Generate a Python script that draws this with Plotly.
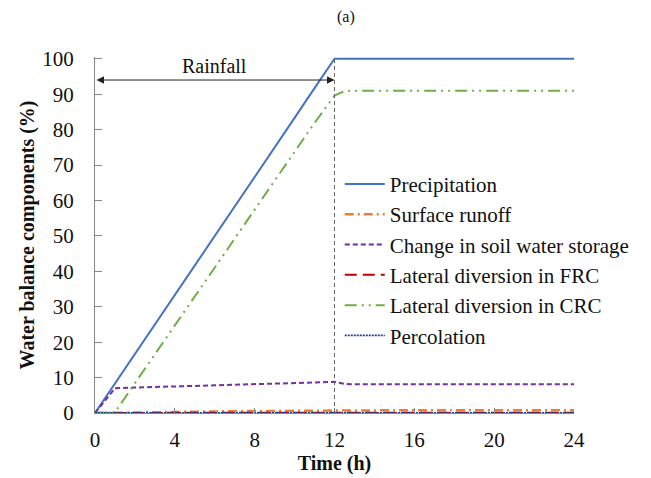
import plotly.graph_objects as go

# Time axis (hours)
time_h = [0, 1, 2, 3, 4, 5, 6, 7, 8, 9, 10, 11, 12, 12.5, 13, 14, 15, 16, 17, 18, 19, 20, 21, 22, 23, 24]

# Cumulative water balance components (% of total precipitation)
precipitation = [0, 8.3, 16.7, 25.0, 33.3, 41.7, 50.0, 58.3, 66.7, 75.0, 83.3, 91.7, 100,
                 100, 100, 100, 100, 100, 100, 100, 100, 100, 100, 100, 100, 100]
surface_runoff = [0, 0.1, 0.2, 0.25, 0.3, 0.4, 0.45, 0.5, 0.55, 0.6, 0.65, 0.7, 0.8,
                  0.8, 0.8, 0.8, 0.8, 0.8, 0.8, 0.8, 0.8, 0.8, 0.8, 0.8, 0.8, 0.8]
soil_storage = [0, 7.0, 7.2, 7.3, 7.5, 7.6, 7.8, 8.0, 8.1, 8.3, 8.5, 8.6, 8.8,
                8.2, 8.1, 8.1, 8.1, 8.1, 8.1, 8.1, 8.1, 8.1, 8.1, 8.1, 8.1, 8.1]
lateral_frc = [0, 0.05, 0.05, 0.05, 0.05, 0.05, 0.05, 0.05, 0.05, 0.05, 0.05, 0.05, 0.05,
               0.05, 0.05, 0.05, 0.05, 0.05, 0.05, 0.05, 0.05, 0.05, 0.05, 0.05, 0.05, 0.05]
lateral_crc = [0, 0.2, 8.4, 16.6, 24.8, 33.0, 41.1, 49.3, 57.4, 65.6, 73.8, 81.9, 89.6,
               90.9, 91.0, 91.0, 91.0, 91.0, 91.0, 91.0, 91.0, 91.0, 91.0, 91.0, 91.0, 91.0]
percolation = [0] * len(time_h)

rain_end = 12
rain_label_y = 94

FONT = "Liberation Serif, Times New Roman, serif"

series = [
    ("Precipitation", precipitation, "#4472C4", "solid", 2),
    ("Surface runoff", surface_runoff, "#ED7D31", "9px,4px,2px,4px", 2.5),
    ("Change in soil water storage", soil_storage, "#7030A0", "5px,3px", 2),
    ("Lateral diversion in FRC", lateral_frc, "#C00000", "12px,6px", 2),
    ("Lateral diversion in CRC", lateral_crc, "#70AD47", "12px,5px,2px,5px,2px,5px", 2),
    ("Percolation", percolation, "#1F3F8F", "2px,1px", 1.8),
]

fig = go.Figure()
for name, vals, color, dash, w in series:
    fig.add_trace(go.Scatter(
        x=time_h, y=vals, name=name, mode="lines",
        line=dict(color=color, dash=dash, width=w),
    ))

# End of rainfall marker
fig.add_shape(type="line", x0=rain_end, x1=rain_end, y0=0, y1=100,
              xref="x", yref="y", line=dict(color="#666666", width=1, dash="4px,3px"))

# Rainfall duration arrow
fig.add_annotation(x=rain_end, y=rain_label_y, ax=0, ay=rain_label_y,
                   xref="x", yref="y", axref="x", ayref="y",
                   text="", showarrow=True, arrowhead=2, startarrowhead=2,
                   arrowside="end+start", arrowsize=1.5, arrowwidth=1, arrowcolor="#222222")
fig.add_annotation(x=rain_end / 2, y=rain_label_y, xref="x", yref="y",
                   text="Rainfall", showarrow=False, yanchor="bottom", yshift=1,
                   font=dict(family=FONT, size=20, color="#111111"))

# Panel label
fig.add_annotation(x=0.525, y=1, xref="paper", yref="paper", yshift=40,
                   text="(a)", showarrow=False, yanchor="middle",
                   font=dict(family=FONT, size=16, color="#111111"))

fig.update_layout(
    width=651, height=478,
    margin=dict(l=95, r=77, t=57, b=65, autoexpand=False),
    paper_bgcolor="white", plot_bgcolor="white",
    font=dict(family=FONT, size=21, color="#111111"),
    showlegend=True,
    legend=dict(x=0.511, y=0.70, xanchor="left", yanchor="top",
                bgcolor="rgba(0,0,0,0)", font=dict(family=FONT, size=21),
                tracegroupgap=0, itemwidth=40),
    xaxis=dict(range=[0, 24], tickvals=[0, 4, 8, 12, 16, 20, 24],
               showgrid=False, zeroline=False, showline=True, linecolor="#888888",
               linewidth=1, ticks="inside", ticklen=5, tickcolor="#888888",
               ticklabelstandoff=8, automargin=False,
               title=dict(text="<b>Time (h)</b>", font=dict(family=FONT, size=20), standoff=4),
               tickfont=dict(family=FONT, size=21)),
    yaxis=dict(range=[0, 100.5], tickvals=list(range(0, 101, 10)),
               showgrid=False, zeroline=False, showline=True, linecolor="#888888",
               linewidth=1, ticks="inside", ticklen=7, tickcolor="#888888",
               ticklabelstandoff=16, automargin=False,
               title=dict(text="<b>Water balance components (%)</b>", font=dict(family=FONT, size=20), standoff=2),
               tickfont=dict(family=FONT, size=21)),
)

fig.write_html("out.html")
